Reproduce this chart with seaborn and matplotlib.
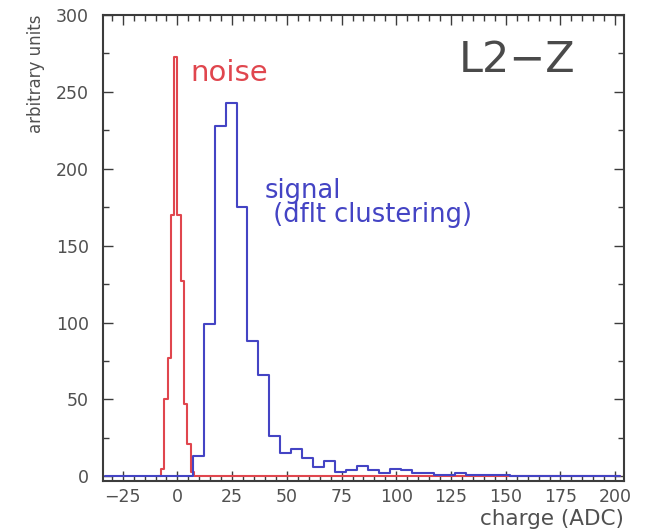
import numpy as np
import pandas as pd
import matplotlib
matplotlib.use("Agg")
import matplotlib.pyplot as plt
from matplotlib.ticker import MultipleLocator
import seaborn as sns

# Noise pedestal around zero: bin edges (ADC) and counts per bin
noise_edges = [-9.0, -7.5, -6.0, -4.5, -3.0, -1.5, 0.0, 1.5, 3.0, 4.5, 6.0, 7.5, 202.0]
noise_counts = [0, 5, 50, 77, 170, 273, 170, 127, 47, 21, 3, 0]

# Signal charge with default clustering, 5 ADC wide bins starting at -33
signal_start = -33
signal_width = 5
signal_counts = [0, 0, 0, 0, 0, 0, 0, 0,
                 13, 99, 228, 243, 175, 88, 66, 26, 15, 18,
                 12, 6, 10, 3, 4, 7, 4, 2, 5, 4,
                 2, 2, 1, 1, 2, 1, 1, 1, 1,
                 0, 0, 0, 0, 0, 0, 0, 0, 0, 0]

x_ticks = [-25, 0, 25, 50, 75, 100, 125, 150, 175, 200]
y_ticks = [0, 50, 100, 150, 200, 250, 300]

RED = "#e0464e"
BLUE = "#4444c4"
FRAME = "#3c3c3c"
TEXT = "#505050"

sns.set_style("white")
plt.rcParams["font.family"] = ["DejaVu Sans"]

fig = plt.figure(figsize=(6.46, 5.30), dpi=100)
ax = fig.add_axes([0.1594, 0.0925, 0.8065, 0.8792])

n_edges = np.asarray(noise_edges, dtype=float)
noise_df = pd.DataFrame({
    "charge": 0.5 * (n_edges[:-1] + n_edges[1:]),
    "count": noise_counts,
})
s_edges = signal_start + signal_width * np.arange(len(signal_counts) + 1)
signal_df = pd.DataFrame({
    "charge": 0.5 * (s_edges[:-1] + s_edges[1:]),
    "count": signal_counts,
})

sns.histplot(data=noise_df, x="charge", weights="count", bins=list(n_edges),
             element="step", fill=False, color=RED, linewidth=1.5, ax=ax)
sns.histplot(data=signal_df, x="charge", weights="count",
             bins=[float(e) for e in s_edges],
             element="step", fill=False, color=BLUE, linewidth=1.5, ax=ax)

ax.set_xlim(-34, 204)
ax.set_ylim(-3, 300)
ax.set_xticks(x_ticks)
ax.set_yticks(y_ticks)
ax.xaxis.set_minor_locator(MultipleLocator(5))
ax.yaxis.set_minor_locator(MultipleLocator(25))
ax.tick_params(which="both", direction="in", bottom=True, left=True,
               top=True, right=True, color=FRAME, width=1.0,
               labelcolor=TEXT, labelsize=12.5)
ax.tick_params(which="major", length=7)
ax.tick_params(which="minor", length=4)
ax.tick_params(axis="y", which="major", pad=10)
ax.tick_params(axis="x", which="major", pad=5)
for side in ax.spines.values():
    side.set_color(FRAME)
    side.set_linewidth(1.5)

ax.set_xlabel("charge (ADC)", loc="right", fontsize=15.5, color=TEXT)
ax.xaxis.set_label_coords(1.0, -0.06)
ax.set_ylabel("arbitrary units", loc="top", fontsize=12, color=TEXT)
ax.yaxis.set_label_coords(-0.112, 1.0)

ax.text(6, 262, "noise", color=RED, fontsize=21, ha="left", va="center")
ax.text(40, 194, "signal\n (dflt clustering)", color=BLUE, fontsize=18.5,
        ha="left", va="top", linespacing=0.9)
ax.text(155, 271, "L2\u2212Z", color="#4a4a4a", fontsize=31,
        ha="center", va="center")

fig.savefig("out.png", dpi=100)
